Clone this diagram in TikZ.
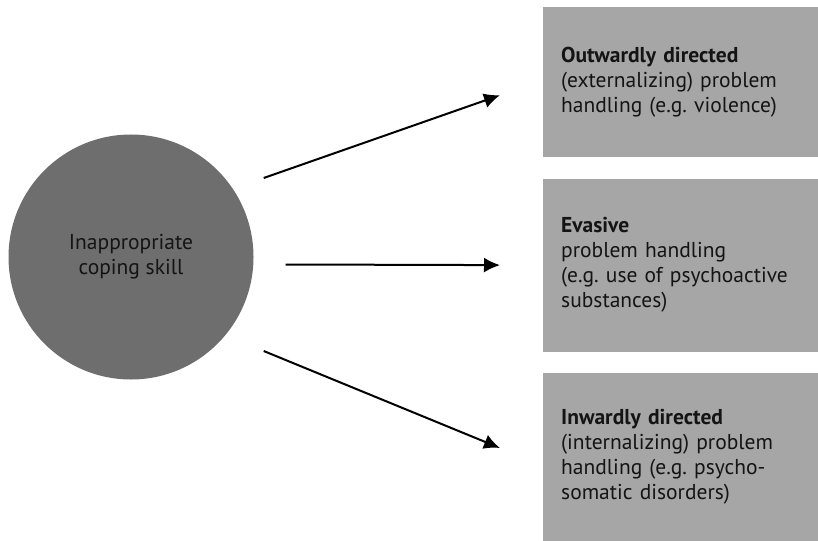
\documentclass[tikz,border=0pt]{standalone}
\usepackage{fontspec}
\setmainfont{PT Sans}
\usetikzlibrary{positioning,arrows.meta}
\definecolor{boxgray}{RGB}{166,166,166}
\definecolor{circlegray}{RGB}{110,110,110}
\definecolor{inkgray}{RGB}{20,20,20}
\tikzstyle{block} = [fill=boxgray, rectangle, minimum width=275pt,
    text width=239pt, inner xsep=18pt, align=left, text=inkgray,
    font=\fontsize{21.5}{25}\selectfont\frenchspacing]
\tikzstyle{source} = [fill=circlegray, circle, minimum size=245pt,
    align=center, text=inkgray, font=\fontsize{21.5}{25}\selectfont]
\tikzstyle{conn} = [-{Latex[length=16pt,width=15pt]}, line width=2pt]

\begin{document}
\begin{tikzpicture}[x=1pt, y=-1pt]
    \useasboundingbox (0,0) rectangle (818,540);
    \node [source] (skill) at (131,257) {Inappropriate\\coping skill};
    \node [block, minimum height=150pt, anchor=north west] (outward) at (543,7)
        {\textbf{Outwardly directed}\\(externalizing) problem\\handling (e.g. violence)};
    \node [block, minimum height=173pt, below=21pt of outward] (evasive)
        {\textbf{Evasive}\\problem handling\\(e.g. use of psychoactive\\substances)};
    \node [block, minimum height=168pt, below=21pt of evasive] (inward)
        {\textbf{Inwardly directed}\\(internalizing) problem\\handling (e.g. psycho-\\somatic disorders)};

    \draw [conn] ([shift={(10,-79)}]skill.east) -- ([shift={(-43,13)}]outward.west);
    \draw [conn] ([shift={(32,7.5)}]skill.east) -- ([shift={(-43,0)}]evasive.west);
    \draw [conn] ([shift={(10,94)}]skill.east) -- ([shift={(-43,-9)}]inward.west);
\end{tikzpicture}
\end{document}
